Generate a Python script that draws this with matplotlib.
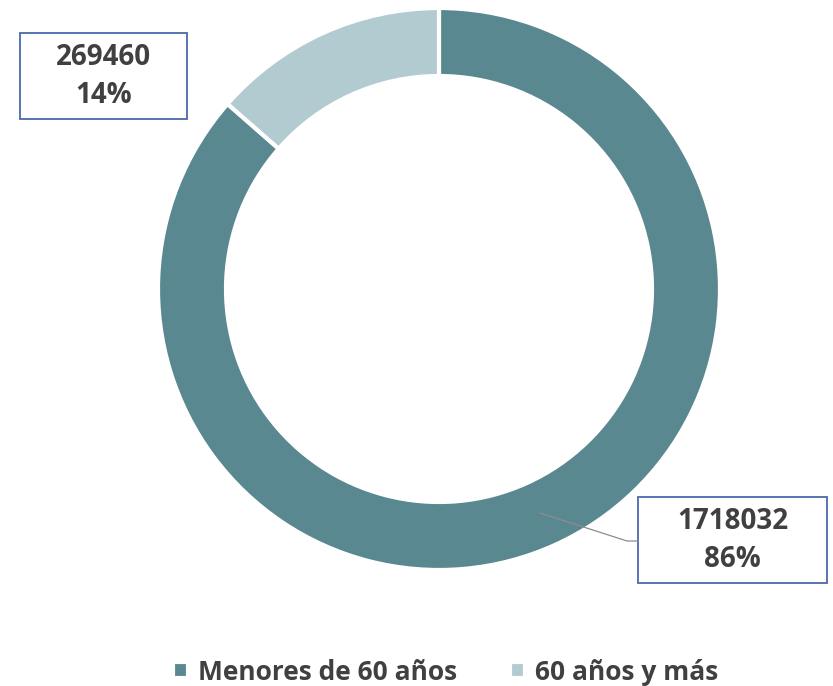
import matplotlib.pyplot as plt
from matplotlib.patches import Rectangle

# datos del gráfico
categorias = ["Menores de 60 años", "60 años y más"]
valores = [1718032, 269460]
colores = ["#5a8891", "#b2cbd0"]

total = sum(valores)
porcentajes = [round(v * 100 / total) for v in valores]

plt.rcParams['font.family'] = ['Open Sans', 'DejaVu Sans']

fig = plt.figure(figsize=(8.33, 6.86), dpi=100)
ax = fig.add_axes([0, 0, 1, 1])

# anillo
wedges, _ = ax.pie(valores, colors=colores, startangle=90, counterclock=False,
                   center=(439, 397), radius=281,
                   wedgeprops=dict(width=68, edgecolor='white', linewidth=3))
ax.set_xlim(0, 833)
ax.set_ylim(0, 686)
ax.set_aspect('equal')
ax.axis('off')

# etiquetas en cajas
cajas = [(20, 567, 167, 86), (638, 103, 189, 86)]
for (x, y, w, h), v, p in zip(cajas[::-1], valores, porcentajes):
    ax.add_patch(Rectangle((x, y), w, h, facecolor='white', edgecolor='#4a69ad', linewidth=1.3))
    ax.text(x + w / 2, y + h * 0.72, str(v), ha='center', va='center',
            fontsize=20, fontweight='bold', color='#404040')
    ax.text(x + w / 2, y + h * 0.27, f"{p}%", ha='center', va='center',
            fontsize=20, fontweight='bold', color='#404040')

# línea guía
ax.plot([540, 627, 638], [173, 145, 145], color='#8c8c8c', linewidth=0.9)

# leyenda
ax.legend(wedges, categorias, loc='center', bbox_to_anchor=(446 / 833, 1 - 672 / 686),
          bbox_transform=fig.transFigure, ncol=2, frameon=False,
          prop=dict(size=19, weight='bold'), labelcolor='#404040',
          handlelength=0.57, handleheight=0.57, handletextpad=0.38, columnspacing=2.0,
          borderpad=0, borderaxespad=0)

fig.savefig("out.png", dpi=100)
